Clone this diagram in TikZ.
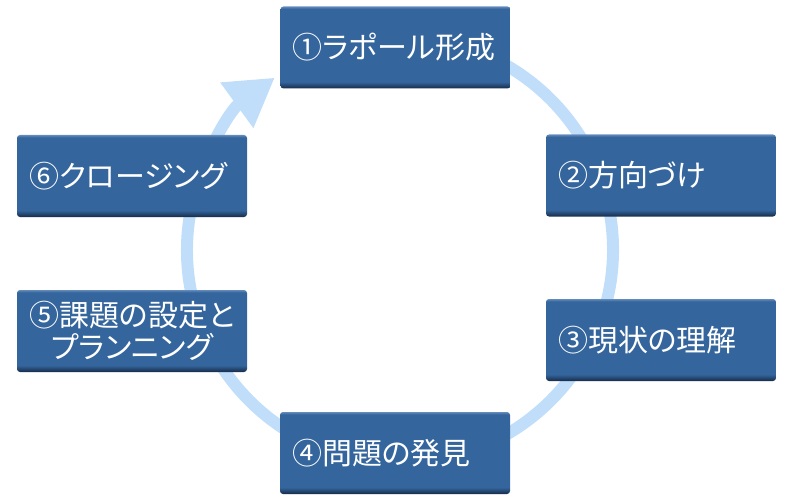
\documentclass[tikz,border=0pt]{standalone}
\usepackage{fontspec}
\setmainfont[Script=CJK,RawFeature=+palt]{Noto Sans CJK JP}
\usetikzlibrary{arrows.meta}
\definecolor{boxmain}{RGB}{52,101,156}
\definecolor{boxdark}{RGB}{22,42,72}
\definecolor{boxlight}{RGB}{100,138,186}
\definecolor{ringblue}{RGB}{192,222,250}
\pgfdeclareverticalshading{boxshade}{100bp}{color(0bp)=(boxdark); color(25bp)=(boxdark); color(29bp)=(boxmain); color(73.5bp)=(boxmain); color(75bp)=(boxlight); color(100bp)=(boxlight)}

\begin{document}
\begin{tikzpicture}[x=1pt,y=-1pt,
	stage/.style={shading=boxshade, rounded corners=3pt, minimum width=230pt, minimum height=82pt,
		text width=206pt, inner xsep=12pt, inner ysep=0pt, align=left, text=white,
		font=\fontsize{30pt}{32pt}\selectfont},
	ring/.style={draw=ringblue, line width=12pt, -{Triangle[width=53pt,length=47pt]}}]
	\useasboundingbox (0,0) rectangle (800,500);

	\coordinate (c) at (400,250);
	\draw[ring] (c) ++(-80:213) arc[start angle=-80, end angle=234, radius=213];

	\node[stage] (s1) at (395.5,47.5) {①ラポール形成};
	\node[stage] (s2) at (661,175.5) {②方向づけ};
	\node[stage] (s3) at (661,340) {③現状の理解};
	\node[stage] (s4) at (395,453) {④問題の発見};
	\node[stage, align=center] (s5) at (132,331) {⑤課題の設定と\\プランニング};
	\node[stage] (s6) at (132,176) {⑥クロージング};

\end{tikzpicture}
\end{document}
